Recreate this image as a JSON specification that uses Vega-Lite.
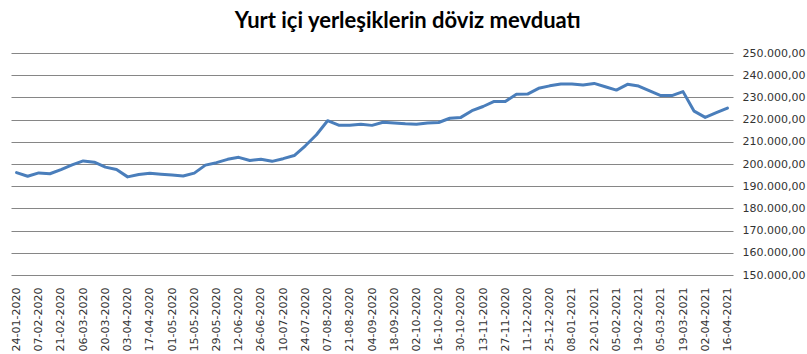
{
  "$schema": "https://vega.github.io/schema/vega-lite/v6.json",
  "autosize": "none",
  "width": 722,
  "height": 222,
  "padding": {"left": 11, "top": 53, "right": 74, "bottom": 79},
  "background": "white",
  "config": {
    "locale": {"number": {"decimal": ",", "thousands": ".", "grouping": [3], "currency": ["", ""]}},
    "view": {"stroke": null}
  },
  "title": {
    "text": "Yurt  içi yerleşiklerin döviz mevduatı",
    "font": "Lato",
    "fontSize": 22,
    "fontWeight": "bold",
    "color": "#000000",
    "anchor": "middle",
    "frame": "bounds",
    "offset": 14
  },
  "data": {
    "values": [
      {"date": "24-01-2020", "value": 196100},
      {"date": "31-01-2020", "value": 194500},
      {"date": "07-02-2020", "value": 196000},
      {"date": "14-02-2020", "value": 195600},
      {"date": "21-02-2020", "value": 197500},
      {"date": "28-02-2020", "value": 199600},
      {"date": "06-03-2020", "value": 201400},
      {"date": "13-03-2020", "value": 200800},
      {"date": "20-03-2020", "value": 198600},
      {"date": "27-03-2020", "value": 197500},
      {"date": "03-04-2020", "value": 194200},
      {"date": "10-04-2020", "value": 195300},
      {"date": "17-04-2020", "value": 195800},
      {"date": "24-04-2020", "value": 195400},
      {"date": "01-05-2020", "value": 195000},
      {"date": "08-05-2020", "value": 194600},
      {"date": "15-05-2020", "value": 195900},
      {"date": "22-05-2020", "value": 199500},
      {"date": "29-05-2020", "value": 200600},
      {"date": "05-06-2020", "value": 202100},
      {"date": "12-06-2020", "value": 203000},
      {"date": "19-06-2020", "value": 201600},
      {"date": "26-06-2020", "value": 202100},
      {"date": "03-07-2020", "value": 201200},
      {"date": "10-07-2020", "value": 202400},
      {"date": "17-07-2020", "value": 203800},
      {"date": "24-07-2020", "value": 208200},
      {"date": "31-07-2020", "value": 213200},
      {"date": "07-08-2020", "value": 219500},
      {"date": "14-08-2020", "value": 217500},
      {"date": "21-08-2020", "value": 217500},
      {"date": "28-08-2020", "value": 217900},
      {"date": "04-09-2020", "value": 217400},
      {"date": "11-09-2020", "value": 218800},
      {"date": "18-09-2020", "value": 218500},
      {"date": "25-09-2020", "value": 218100},
      {"date": "02-10-2020", "value": 217900},
      {"date": "09-10-2020", "value": 218500},
      {"date": "16-10-2020", "value": 218700},
      {"date": "23-10-2020", "value": 220600},
      {"date": "30-10-2020", "value": 221000},
      {"date": "06-11-2020", "value": 224000},
      {"date": "13-11-2020", "value": 225900},
      {"date": "20-11-2020", "value": 228200},
      {"date": "27-11-2020", "value": 228200},
      {"date": "04-12-2020", "value": 231400},
      {"date": "11-12-2020", "value": 231500},
      {"date": "18-12-2020", "value": 234100},
      {"date": "25-12-2020", "value": 235200},
      {"date": "01-01-2021", "value": 236000},
      {"date": "08-01-2021", "value": 236000},
      {"date": "15-01-2021", "value": 235600},
      {"date": "22-01-2021", "value": 236300},
      {"date": "29-01-2021", "value": 234800},
      {"date": "05-02-2021", "value": 233300},
      {"date": "12-02-2021", "value": 235900},
      {"date": "19-02-2021", "value": 235100},
      {"date": "26-02-2021", "value": 232900},
      {"date": "05-03-2021", "value": 230800},
      {"date": "12-03-2021", "value": 230800},
      {"date": "19-03-2021", "value": 232600},
      {"date": "26-03-2021", "value": 223800},
      {"date": "02-04-2021", "value": 221000},
      {"date": "09-04-2021", "value": 223100},
      {"date": "16-04-2021", "value": 225200}
    ]
  },
  "mark": {"type": "line", "color": "#4a7ebb", "strokeWidth": 3, "strokeJoin": "round", "strokeCap": "round"},
  "encoding": {
    "x": {
      "field": "date",
      "type": "ordinal",
      "sort": null,
      "scale": {"type": "point", "padding": 0.5},
      "axis": {
        "title": null,
        "domain": false,
        "ticks": false,
        "grid": false,
        "labelAngle": -90,
        "labelPadding": 12,
        "labelFont": "DejaVu Sans",
        "labelFontSize": 11,
        "labelColor": "#333333",
        "values": ["24-01-2020","07-02-2020","21-02-2020","06-03-2020","20-03-2020","03-04-2020","17-04-2020","01-05-2020","15-05-2020","29-05-2020","12-06-2020","26-06-2020","10-07-2020","24-07-2020","07-08-2020","21-08-2020","04-09-2020","18-09-2020","02-10-2020","16-10-2020","30-10-2020","13-11-2020","27-11-2020","11-12-2020","25-12-2020","08-01-2021","22-01-2021","05-02-2021","19-02-2021","05-03-2021","19-03-2021","02-04-2021","16-04-2021"]
      }
    },
    "y": {
      "field": "value",
      "type": "quantitative",
      "scale": {"domain": [150000, 250000], "zero": false, "nice": false},
      "axis": {
        "orient": "right",
        "title": null,
        "domain": false,
        "ticks": false,
        "grid": true,
        "gridColor": "#868686",
        "gridWidth": 1,
        "gridOpacity": 1,
        "labelPadding": 9,
        "labelFont": "DejaVu Sans",
        "labelFontSize": 11,
        "labelColor": "#333333",
        "format": ",.2f",
        "values": [150000, 160000, 170000, 180000, 190000, 200000, 210000, 220000, 230000, 240000, 250000]
      }
    }
  }
}
